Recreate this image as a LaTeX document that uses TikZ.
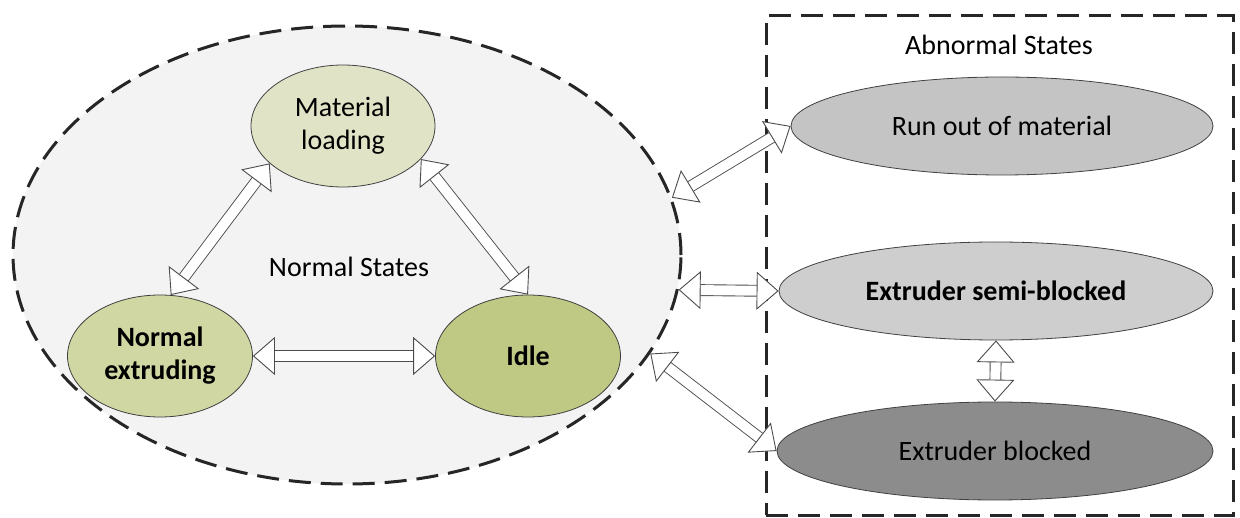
\documentclass[tikz,border=0pt]{standalone}
\usepackage{fontspec}
\setmainfont{Carlito}
\usetikzlibrary{shapes.geometric,arrows.meta}
\definecolor{zonefill}{RGB}{243,243,243}
\definecolor{matfill}{RGB}{224,227,198}
\definecolor{extfill}{RGB}{208,215,163}
\definecolor{idlefill}{RGB}{192,201,132}
\definecolor{runfill}{RGB}{196,196,196}
\definecolor{semifill}{RGB}{206,206,206}
\definecolor{blkfill}{RGB}{140,140,140}
\tikzset{
	txt/.style={font=\fontsize{28}{33}\selectfont},
	boldtxt/.style={font=\fontsize{28}{33}\selectfont\bfseries},
	state/.style={ellipse, draw=black!75, line width=0.8pt, align=center, inner sep=0pt},
	zone/.style={draw=black!85, line width=3pt, dash pattern=on 22pt off 10pt},
	dbl/.style={draw=black!70, line width=0.9pt, double=white, double distance=10pt,
		{Triangle[length=22pt,width=38pt,fill=white,line width=0.9pt]}-{Triangle[length=22pt,width=38pt,fill=white,line width=0.9pt]}}
}
\begin{document}
\begin{tikzpicture}[x=1pt, y=-1pt]
	\useasboundingbox (0,0) rectangle (1240,518);
	\node[ellipse, zone, fill=zonefill, minimum width=668pt, minimum height=458pt] (normalzone) at (347,255) {};
	\node[zone, minimum width=467pt, minimum height=499pt] (abnormalzone) at (999.5,265.5) {};
	\node[txt] (normallabel) at (349,267) {Normal States};
	\node[txt] (abnormallabel) at (999,45) {Abnormal States};
	\node[state, txt, fill=matfill, minimum width=184pt, minimum height=122pt] (mat) at (343,126) {Material\\loading};
	\node[state, boldtxt, fill=extfill, minimum width=185pt, minimum height=122pt] (ext) at (160,356) {Normal\\extruding};
	\node[state, boldtxt, fill=idlefill, minimum width=185pt, minimum height=122pt] (idle) at (528,356) {Idle};
	\node[state, txt, fill=runfill, minimum width=422pt, minimum height=98pt] (run) at (1002,126) {Run out of material};
	\node[state, boldtxt, fill=semifill, minimum width=434pt, minimum height=98pt] (semi) at (996,291) {Extruder semi-blocked};
	\node[state, txt, fill=blkfill, minimum width=436pt, minimum height=98pt] (blk) at (995,451) {Extruder blocked};
	\draw[dbl] (ext.80) -- (mat.207);
	\draw[dbl] (mat.-23) -- (idle.north);
	\draw[dbl] (ext.east) -- (idle.west);
	\draw[dbl] (normalzone.10) -- (run.west);
	\draw[dbl] (normalzone.-6) -- (semi.west);
	\draw[dbl] (normalzone.-18) -- (blk.west);
	\draw[dbl] (semi.south) -- (blk.north);
\end{tikzpicture}
\end{document}
